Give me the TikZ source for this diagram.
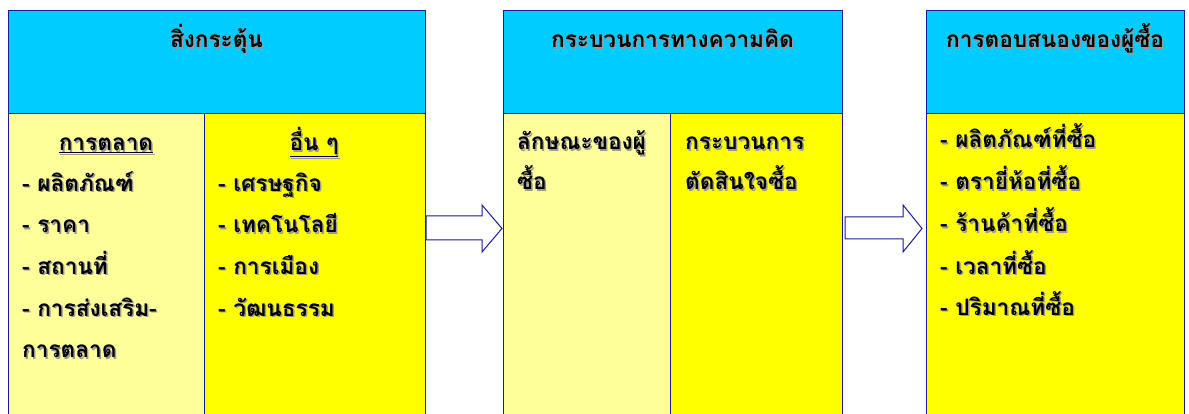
\documentclass[tikz,border=0pt]{standalone}
\usepackage{fontspec}
\newfontfamily\thai[Script=Thai]{Loma}
\definecolor{hdrc}{HTML}{00CCFF}
\definecolor{lyel}{HTML}{FFFF99}
\definecolor{yel}{HTML}{FFFF00}
\definecolor{edge}{HTML}{1A1A99}
\newcommand\shd[1]{\leavevmode\rlap{\kern1.5pt\raisebox{-1.5pt}{\color{black!40}#1}}#1}
\tikzset{
  boxbase/.style={draw=edge, line width=1pt, anchor=north west, inner sep=0pt},
  hdrbox/.style={boxbase, fill=hdrc, minimum height=103pt},
  lbox/.style={boxbase, fill=lyel, minimum height=320pt},
  ybox/.style={boxbase, fill=yel, minimum height=320pt},
  txt/.style={anchor=base west, inner sep=0pt, font=\thai\bfseries\fontsize{22.6}{26}\selectfont},
  ctxt/.style={txt, anchor=base},
  blockarrow/.style={draw=edge, line width=1pt, fill=white, line join=miter}
}
\begin{document}
\begin{tikzpicture}[x=1pt,y=-1pt]
\clip (0,0) rectangle (1189,414);
\fill[white] (0,0) rectangle (1189,414);
% left group
\node[hdrbox, minimum width=417pt] (h1) at (8,10) {};
\node[lbox, minimum width=196pt] (a1) at (8,113) {};
\node[ybox, minimum width=221pt] (a2) at (204,113) {};
% middle group
\node[hdrbox, minimum width=339pt] (h2) at (503,10) {};
\node[lbox, minimum width=167pt] (b1) at (503,113) {};
\node[ybox, minimum width=172pt] (b2) at (670,113) {};
% right group
\node[hdrbox, minimum width=258pt] (h3) at (926,10) {};
\node[ybox, minimum width=258pt] (c1) at (926,113) {};
% arrows
\draw[blockarrow] (a2.north east |- 0,216) -- (482,216) -- (482,205) -- (502,228.5) -- (482,252) -- (482,240) -- (a2.north east |- 0,240) -- cycle;
\draw[blockarrow] (845,217) -- (903,217) -- (903,205) -- (922,228.5) -- (903,252) -- (903,239) -- (845,239) -- cycle;
% header texts
\node[ctxt] (t1) at (216.5,48) {\shd{สิ่งกระตุ้น}};
\node[ctxt] (t2) at (672.5,48) {\shd{กระบวนการทางความคิด}};
\node[ctxt] (t3) at (1055,48) {\shd{การตอบสนองของผู้ซื้อ}};
% left column 1
\node[ctxt] (m0) at (106,151) {\shd{\underline{การตลาด}}};
\node[txt] (m1) at (22,191.5) {\shd{- ผลิตภัณฑ์}};
\node[txt] (m2) at (22,233) {\shd{- ราคา}};
\node[txt] (m3) at (22,274.5) {\shd{- สถานที่}};
\node[txt] (m4) at (22,316) {\shd{- การส่งเสริม-}};
\node[txt] (m5) at (22,357.5) {\shd{การตลาด}};
% left column 2
\node[ctxt] (o0) at (314,151) {\shd{\underline{อื่น ๆ}}};
\node[txt] (o1) at (218,191.5) {\shd{- เศรษฐกิจ}};
\node[txt] (o2) at (218,233) {\shd{- เทคโนโลยี}};
\node[txt] (o3) at (218,274.5) {\shd{- การเมือง}};
\node[txt] (o4) at (218,316) {\shd{- วัฒนธรรม}};
% middle
\node[txt] (p1) at (517,150) {\shd{ลักษณะของผู้}};
\node[txt] (p2) at (517,190) {\shd{ซื้อ}};
\node[txt] (q1) at (685,150) {\shd{กระบวนการ}};
\node[txt] (q2) at (685,190) {\shd{ตัดสินใจซื้อ}};
% right
\node[txt] (r1) at (940,148) {\shd{- ผลิตภัณฑ์ที่ซื้อ}};
\node[txt] (r2) at (940,190) {\shd{- ตรายี่ห้อที่ซื้อ}};
\node[txt] (r3) at (940,232) {\shd{- ร้านค้าที่ซื้อ}};
\node[txt] (r4) at (940,274) {\shd{- เวลาที่ซื้อ}};
\node[txt] (r5) at (940,315) {\shd{- ปริมาณที่ซื้อ}};
\end{tikzpicture}
\end{document}
